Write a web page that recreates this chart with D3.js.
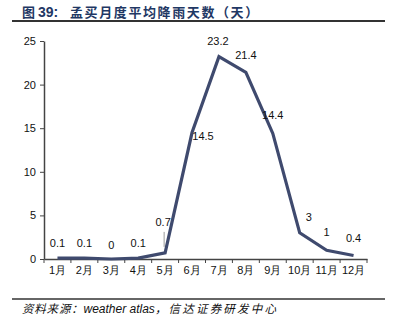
<!DOCTYPE html>
<html>
<head>
<meta charset="utf-8">
<script src="https://cdn.jsdelivr.net/npm/d3@7"></script>
<style>
  html, body { margin: 0; padding: 0; background: #fff; }
  svg { display: block; }
</style>
</head>
<body>
<script>
// Mumbai: average rainy days per month
const months = ["1月","2月","3月","4月","5月","6月","7月","8月","9月","10月","11月","12月"];
const rainyDays = [0.1, 0.1, 0, 0.1, 0.7, 14.5, 23.2, 21.4, 14.4, 3, 1, 0.4];
const yTicks = [0, 5, 10, 15, 20, 25];
// label nudges (dx, dy) relative to each point
const labelDx = [0, 0, 0, 0, -2, 11, -1, 0, 0, 9, 0, 0];
const labelDy = [-14, -14, -13, -14, -30, 5, -15, -16, -17, -15, -17, -16];

const W = 395, H = 327;
const margin = { left: 44, right: 28, top: 41, bottom: 68 };

const svg = d3.select("body").append("svg").attr("width", W).attr("height", H);

const fontCJK = "'Noto Sans CJK SC', sans-serif";
const fontAxis = "'Liberation Sans', Arial, sans-serif";

// heading
const title = svg.append("text")
  .attr("x", 22).attr("y", 17)
  .attr("font-weight", "bold")
  .attr("font-size", 13)
  .attr("fill", "#1f3864");
title.append("tspan").attr("font-family", fontCJK).text("图 ");
title.append("tspan").attr("font-family", fontAxis).attr("font-size", 14).text("39:");
title.append("tspan").attr("x", 70).attr("font-family", fontCJK)
  .attr("letter-spacing", 1.6).text("孟买月度平均降雨天数（天）");
svg.append("line")
  .attr("x1", 12).attr("x2", 385).attr("y1", 21).attr("y2", 21)
  .attr("stroke", "#333").attr("stroke-width", 2);

const x = d3.scaleBand().domain(months).range([margin.left, W - margin.right]);
const y = d3.scaleLinear().domain([0, 25]).range([H - margin.bottom, margin.top]);

// y axis
const gy = svg.append("g").attr("transform", `translate(${margin.left},0)`)
  .call(d3.axisLeft(y).tickValues(yTicks).tickSize(4).tickSizeOuter(0));
gy.select(".domain").attr("stroke", "#444").attr("stroke-width", 1.5);
gy.selectAll(".tick line").attr("stroke", "#444");
gy.selectAll(".tick text").attr("font-family", fontAxis).attr("font-size", 11).attr("fill", "#111").attr("dx", -1);

// x axis with boundary ticks
const gx = svg.append("g").attr("transform", `translate(0,${H - margin.bottom})`)
  .call(d3.axisBottom(x).tickSize(0).tickSizeOuter(0));
gx.select(".domain").attr("stroke", "#444").attr("stroke-width", 1.5);
gx.selectAll(".tick text").attr("font-family", fontAxis).attr("font-size", 11).attr("fill", "#111").attr("dy", "1.1em");
const bounds = months.map(m => x(m)).concat([x(months[11]) + x.bandwidth()]);
gx.selectAll(".btick").data(bounds).enter().append("line")
  .attr("x1", d => d).attr("x2", d => d).attr("y1", 0).attr("y2", 4)
  .attr("stroke", "#444");

const cx = (d, i) => x(months[i]) + x.bandwidth() / 2;

// rainfall line
svg.append("path")
  .datum(rainyDays)
  .attr("fill", "none")
  .attr("stroke", "#3f4a6e")
  .attr("stroke-width", 3.2)
  .attr("stroke-linejoin", "miter")
  .attr("d", d3.line().x(cx).y(d => y(d)));

// leader line for May
svg.append("line")
  .attr("x1", cx(0, 4) - 1).attr("x2", cx(0, 4) - 1)
  .attr("y1", y(rainyDays[4]) - 21).attr("y2", y(rainyDays[4]) - 6)
  .attr("stroke", "#999").attr("stroke-width", 1);

// value labels
svg.selectAll(".vlab").data(rainyDays).enter().append("text")
  .attr("x", (d, i) => cx(d, i) + labelDx[i])
  .attr("y", (d, i) => y(d) + labelDy[i])
  .attr("text-anchor", "middle")
  .attr("dominant-baseline", "middle")
  .attr("font-family", fontAxis)
  .attr("font-size", 11)
  .attr("fill", "#111")
  .text(d => d);

// source
svg.append("line")
  .attr("x1", 12).attr("x2", 385).attr("y1", 299).attr("y2", 299)
  .attr("stroke", "#333").attr("stroke-width", 1.5);
const src = svg.append("text")
  .attr("x", 22).attr("y", 313)
  .attr("font-size", 11.5)
  .attr("font-style", "italic")
  .attr("fill", "#111");
src.append("tspan").attr("font-family", fontCJK).attr("letter-spacing", 0.8).text("资料来源：");
src.append("tspan").attr("font-family", fontAxis).attr("font-size", 12).text("weather atlas");
src.append("tspan").attr("font-family", fontCJK).attr("letter-spacing", 2.2).text("，信达证券研发中心");
</script>
</body>
</html>
